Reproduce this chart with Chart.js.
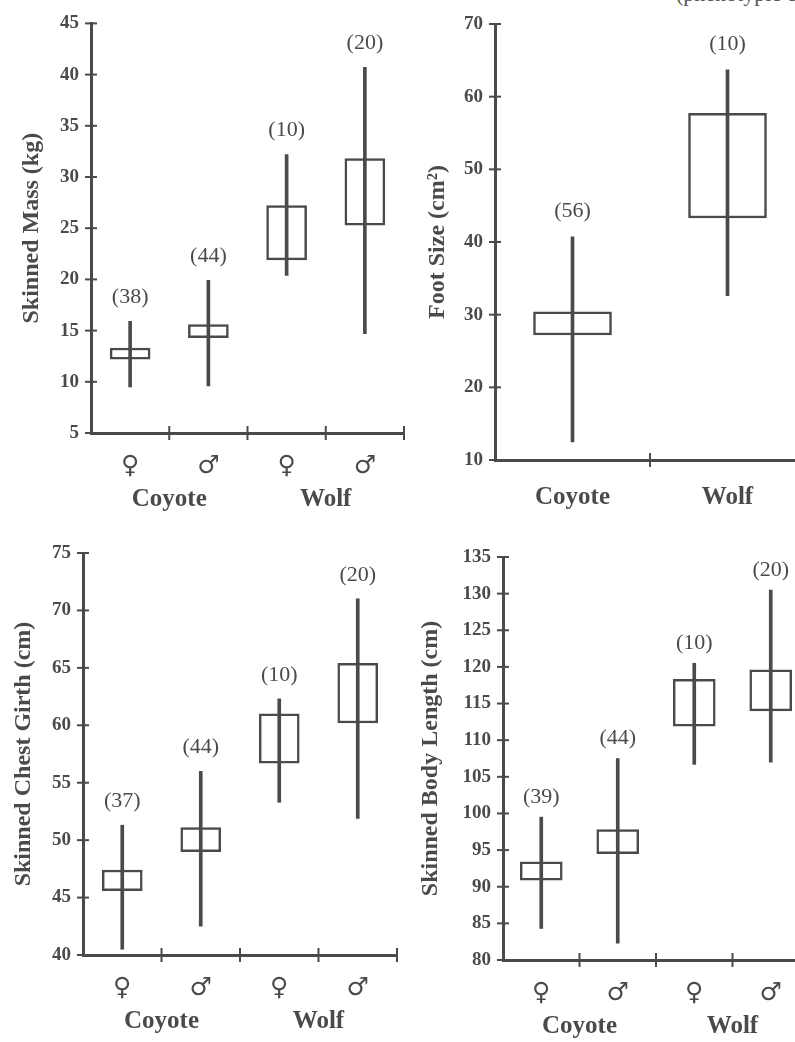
<!DOCTYPE html>
<html>
<head>
<meta charset="utf-8">
<script src="https://cdn.jsdelivr.net/npm/chart.js@4.4.1/dist/chart.umd.min.js"></script>
<style>
  html, body { margin: 0; padding: 0; background: #fff; }
  body { width: 795px; height: 1042px; position: relative; overflow: hidden; }
  canvas { position: absolute; }
  #cut { position: absolute; left: 676px; top: -19px; font: 22px 'Liberation Serif'; color: #555; white-space: nowrap; }
</style>
</head>
<body>
<div id="cut">(phenotypic c</div>
<canvas id="mass" width="420" height="520" style="left:0;top:0"></canvas>
<canvas id="foot" width="410" height="520" style="left:400px;top:0"></canvas>
<canvas id="girth" width="420" height="522" style="left:0;top:520px"></canvas>
<canvas id="length" width="415" height="522" style="left:400px;top:520px"></canvas>
<script>
// categories
const sexes = ['♀', '♂', '♀', '♂'];
const species = ['Coyote', 'Wolf'];

// skinned mass (kg): whisker ends, box ends, sample size
const massMin = [9.5, 9.6, 20.4, 14.7];
const massQ1 = [12.2, 14.3, 21.9, 25.3];
const massQ3 = [13.3, 15.6, 27.2, 31.8];
const massMax = [15.9, 19.9, 32.2, 40.7];
const massN = [38, 44, 10, 20];

// foot size (cm2)
const footMin = [12.5, 32.6];
const footQ1 = [27.2, 43.3];
const footQ3 = [30.4, 57.7];
const footMax = [40.7, 63.7];
const footN = [56, 10];

// skinned chest girth (cm)
const girthMin = [40.5, 42.5, 53.3, 51.9];
const girthQ1 = [45.6, 49.0, 56.7, 60.2];
const girthQ3 = [47.4, 51.1, 61.0, 65.4];
const girthMax = [51.3, 56.0, 62.3, 71.0];
const girthN = [37, 44, 10, 20];

// skinned body length (cm)
const lengthMin = [84.3, 82.3, 106.7, 107.0];
const lengthQ1 = [90.9, 94.5, 111.9, 114.0];
const lengthQ3 = [93.4, 97.8, 118.3, 119.6];
const lengthMax = [99.5, 107.5, 120.5, 130.5];
const lengthN = [39, 44, 10, 20];

const ink = '#4a4a4a';
const serif = "'Liberation Serif', 'Times New Roman', serif";

// crossing tick marks, sample sizes above whiskers, species names under sex symbols
const decor = {
  id: 'decor',
  afterDraw(chart, args, o) {
    const { ctx, chartArea: a } = chart;
    const xs = chart.scales.x, ys = chart.scales.y;
    ctx.save();
    ctx.strokeStyle = ink;
    ctx.lineWidth = 2;
    ys.ticks.forEach(t => {
      const y = ys.getPixelForValue(t.value);
      ctx.beginPath(); ctx.moveTo(a.left - 6, y); ctx.lineTo(a.left + 6, y); ctx.stroke();
    });
    const n = chart.data.labels.length;
    const w = (a.right - a.left) / n;
    for (let i = 1; i <= n; i++) {
      const x = a.left + i * w;
      ctx.beginPath(); ctx.moveTo(x, a.bottom - 7); ctx.lineTo(x, a.bottom + 7); ctx.stroke();
    }
    ctx.fillStyle = ink;
    ctx.textAlign = 'center';
    ctx.textBaseline = 'middle';
    ctx.font = '22px ' + serif;
    o.n.forEach((v, i) => {
      ctx.fillText('(' + v + ')', xs.getPixelForValue(i), ys.getPixelForValue(o.max[i]) - o.gap);
    });
    if (o.species) {
      ctx.font = 'bold 25px ' + serif;
      o.species.forEach((s, j) => {
        const x = (xs.getPixelForValue(2 * j) + xs.getPixelForValue(2 * j + 1)) / 2;
        ctx.fillText(s, x, a.bottom + 67);
      });
    }
    ctx.restore();
  }
};

function boxChart(id, o) {
  new Chart(document.getElementById(id), {
    type: 'bar',
    data: {
      labels: o.labels,
      datasets: [
        {
          data: o.min.map((v, i) => [v, o.max[i]]),
          backgroundColor: ink, borderWidth: 0, barThickness: 3, grouped: false, order: 0
        },
        {
          data: o.q1.map((v, i) => [v, o.q3[i]]),
          backgroundColor: '#fff', borderColor: ink, borderWidth: 2.5, borderSkipped: false,
          barThickness: o.boxW, grouped: false, order: 1
        }
      ]
    },
    options: {
      responsive: false,
      animation: false,
      layout: { padding: o.pad },
      plugins: {
        legend: { display: false },
        tooltip: { enabled: false },
        decor: { n: o.n, max: o.max, gap: o.gap, species: o.species }
      },
      scales: {
        x: {
          grid: { display: false, drawTicks: false },
          border: { color: ink, width: 3 },
          ticks: { color: ink, padding: o.xPad, font: o.xFont },
          afterFit: s => { s.height = o.xh; }
        },
        y: {
          min: o.yMin, max: o.yMax,
          grid: { display: false, drawTicks: false },
          border: { color: ink, width: 3 },
          ticks: { stepSize: o.step, color: ink, padding: 12, font: { family: serif, size: 19, weight: 'bold' } },
          title: {
            display: true, text: o.title, color: ink,
            font: { family: serif, size: 24, weight: 'bold', lineHeight: 1.2 },
            padding: { top: o.titlePad, bottom: 0 }
          },
          afterFit: s => { s.width = o.yw; }
        }
      }
    },
    plugins: [decor]
  });
}

const sexFont = { family: "'DejaVu Sans', sans-serif", size: 25 };
const nameFont = { family: serif, size: 25, weight: 'bold' };

boxChart('mass', {
  labels: sexes, species: species, min: massMin, q1: massQ1, q3: massQ3, max: massMax, n: massN,
  yMin: 5, yMax: 45, step: 5, title: 'Skinned Mass (kg)',
  pad: { left: 0, top: 19, right: 16, bottom: 0 }, yw: 91, xh: 87, titlePad: 17,
  boxW: 40, gap: 24, xPad: 18, xFont: sexFont
});

boxChart('foot', {
  labels: species, min: footMin, q1: footQ1, q3: footQ3, max: footMax, n: footN,
  yMin: 10, yMax: 70, step: 10, title: 'Foot Size (cm²)',
  pad: { left: 0, top: 24, right: 5, bottom: 0 }, yw: 95, xh: 60, titlePad: 23,
  boxW: 78, gap: 26, xPad: 23, xFont: nameFont
});

boxChart('girth', {
  labels: sexes, species: species, min: girthMin, q1: girthQ1, q3: girthQ3, max: girthMax, n: girthN,
  yMin: 40, yMax: 75, step: 5, title: 'Skinned Chest Girth (cm)',
  pad: { left: 0, top: 33, right: 23, bottom: 0 }, yw: 83, xh: 87, titlePad: 9,
  boxW: 40, gap: 24, xPad: 18, xFont: sexFont
});

boxChart('length', {
  labels: sexes, species: species, min: lengthMin, q1: lengthQ1, q3: lengthQ3, max: lengthMax, n: lengthN,
  yMin: 80, yMax: 135, step: 5, title: 'Skinned Body Length (cm)',
  pad: { left: 0, top: 37, right: 6, bottom: 0 }, yw: 103, xh: 82, titlePad: 16,
  boxW: 42, gap: 20, xPad: 18, xFont: sexFont
});
</script>
</body>
</html>
